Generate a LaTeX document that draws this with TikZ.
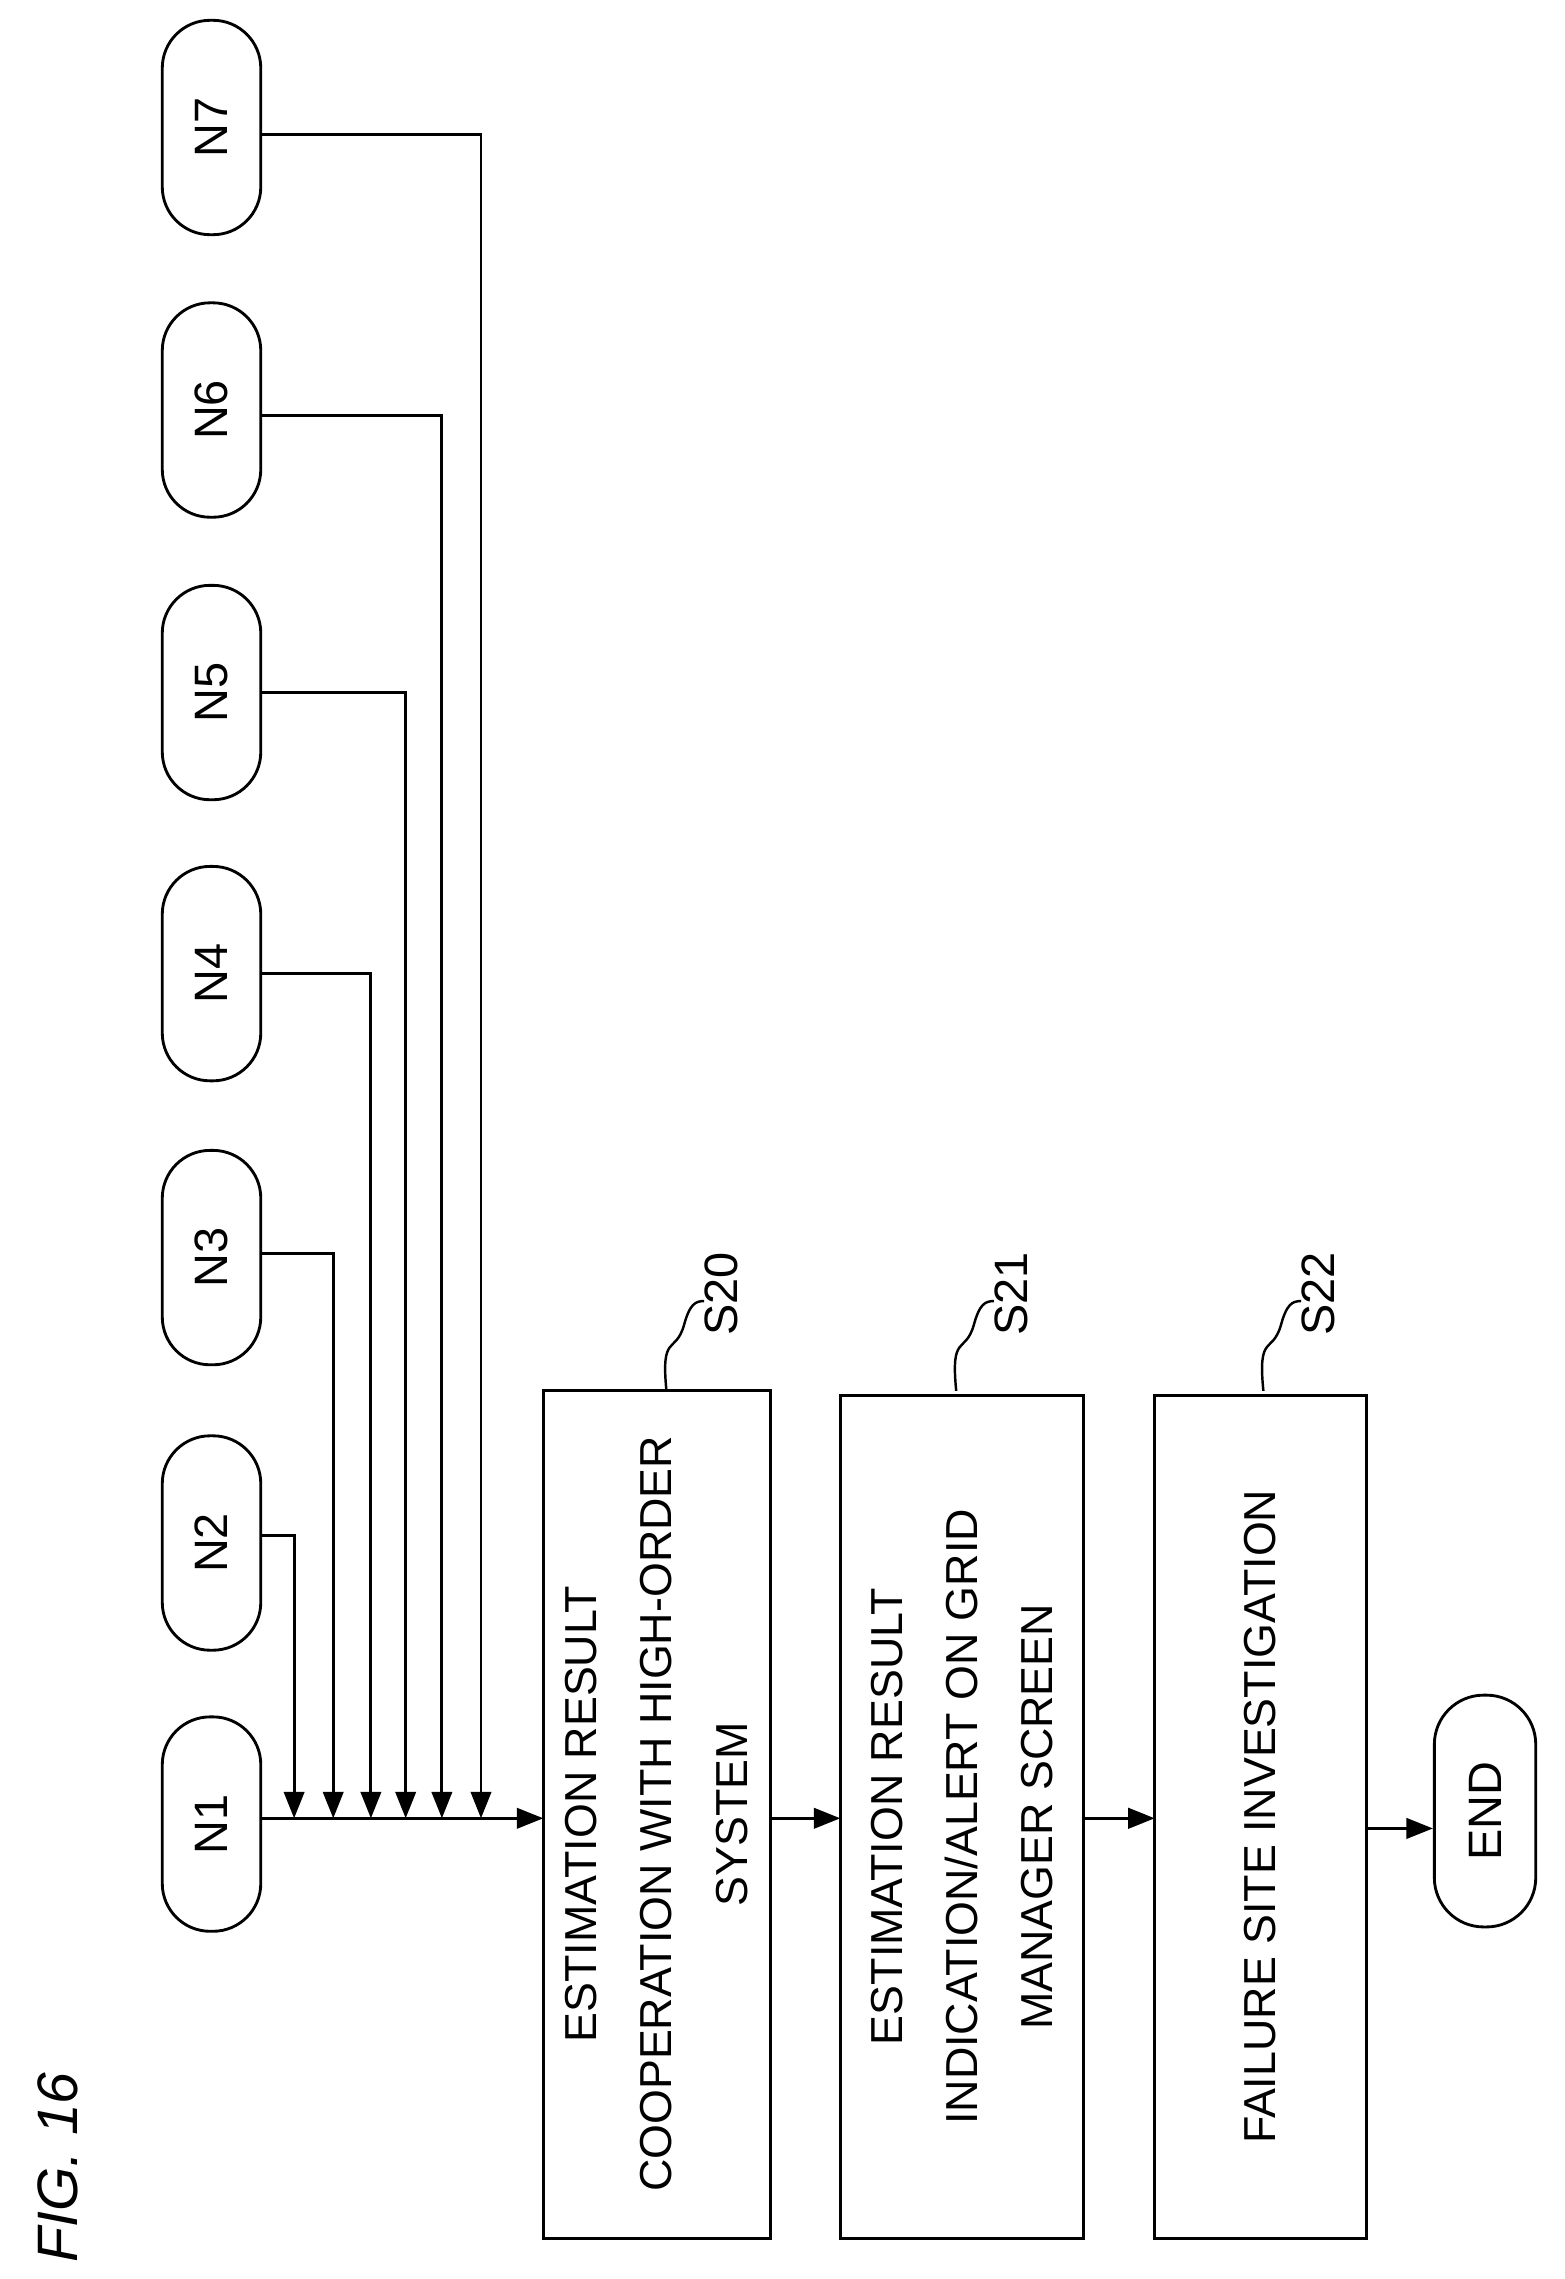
\documentclass[tikz,border=0pt]{standalone}
\usepackage{fontspec}
\setmainfont{Liberation Sans}
\usetikzlibrary{arrows.meta}
\begin{document}
\begin{tikzpicture}[x=0.05cm,y=-0.05cm,line width=2.8pt,
 term/.style={draw,rounded corners=1.65cm,minimum width=7.4cm,minimum height=3.4cm,rotate=90,font=\fontsize{46}{50}\selectfont},
 txt/.style={rotate=90,align=center,font=\fontsize{44}{74}\selectfont},
 arr/.style={-{Triangle[length=26pt,width=20pt]}},
 lab/.style={rotate=90,font=\fontsize{46}{50}\selectfont}]
\useasboundingbox (0,0) rectangle (1080,1573);
\foreach \n/\y in {1/1259,2/1065,3/868,4/672,5/478,6/283,7/88}
  \node[term] (N\n) at (146,\y) {N\n};
\node[term,minimum width=8cm,minimum height=3.5cm,rounded corners=1.7cm] (END) at (1025,1250) {END};
\draw (375,960) rectangle (532,1545);
\node[txt] (S20) at (453,1252) {ESTIMATION RESULT\\COOPERATION WITH HIGH-ORDER\\SYSTEM};
\draw (580,963) rectangle (748,1545);
\node[txt] (S21) at (664,1254) {ESTIMATION RESULT\\INDICATION/ALERT ON GRID\\MANAGER SCREEN};
\draw (797,963) rectangle (943,1545);
\node[txt] (S22) at (870,1254) {FAILURE SITE INVESTIGATION};
\coordinate (b20) at (375,1255);
\coordinate (b20o) at (532,1255);
\coordinate (b21) at (580,1255);
\coordinate (b21o) at (748,1255);
\coordinate (b22) at (797,1255);
\coordinate (b22o) at (943,1262);
\draw[arr] (N1.south |- b20) -- (b20);
\draw[arr] (b20o) -- (b21);
\draw[arr] (b21o) -- (b22);
\draw[arr] (b22o) -- (END.north |- b22o);
\foreach \n/\y/\x in {2/1060/203,3/865/230,4/672/256,5/478/280,6/287/305,7/93/332}
  \draw[arr] (N\n.south |- 0,\y) -- (\x,\y) -- (\x,1255);
\foreach \l/\x in {S20/460,S21/660,S22/872}{
  \draw[line width=2.4pt] (\x,960) .. controls (\x-4,920) and (\x+6,935) .. (\x+12,915) .. controls (\x+16,900) and (\x+20,898) .. (\x+26,898);
  \node[lab,anchor=west] at (\x+38,925) {\l};}
\node[rotate=90,anchor=west,font=\itshape\fontsize{56}{60}\selectfont] (fig) at (40,1565) {FIG. 16};
\end{tikzpicture}
\end{document}
